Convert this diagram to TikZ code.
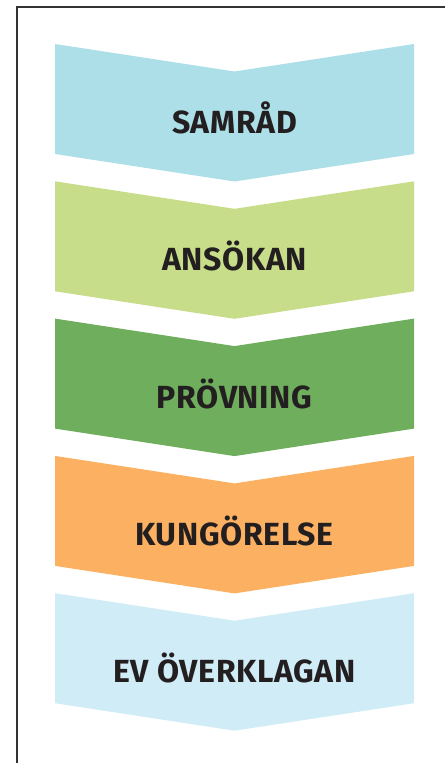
\documentclass[tikz,border=0pt]{standalone}
\usepackage{fontspec}
\setmainfont{Fira Sans}[LetterSpace=2]
\definecolor{cA}{HTML}{ADDFE9}
\definecolor{cB}{HTML}{C8DD8A}
\definecolor{cC}{HTML}{6FAE5C}
\definecolor{cD}{HTML}{FBB161}
\definecolor{cE}{HTML}{D0ECF6}
\definecolor{txt}{HTML}{231F20}
\tikzset{
  lbl/.style={font=\fontsize{32}{32}\selectfont\bfseries, text=txt, inner sep=0pt, anchor=base},
}
\newcommand{\chev}[2]{% top y, colour
  \fill[#2] (55,#1) -- (234.5,#1+27.5) -- (414,#1) -- (414,#1+110) -- (234.5,#1+137.5) -- (55,#1+110) -- cycle;
}
\begin{document}
\begin{tikzpicture}[x=1pt,y=-1pt]
\useasboundingbox (0,0) rectangle (445,763);
\draw[line width=1.5pt, color=black!80] (17,763) -- (17,7) -- (445,7);
\chev{44}{cA}
\chev{181.3}{cB}
\chev{318.6}{cC}
\chev{455.9}{cD}
\chev{593.2}{cE}
\node[lbl] (s1) at (234.5,133.5) {SAMRÅD};
\node[lbl] (s2) at (234.5,270.8) {ANSÖKAN};
\node[lbl] (s3) at (234.5,408.1) {PRÖVNING};
\node[lbl] (s4) at (234.5,545.4) {KUNGÖRELSE};
\node[lbl] (s5) at (234.5,682.7) {EV ÖVERKLAGAN};
\end{tikzpicture}
\end{document}
